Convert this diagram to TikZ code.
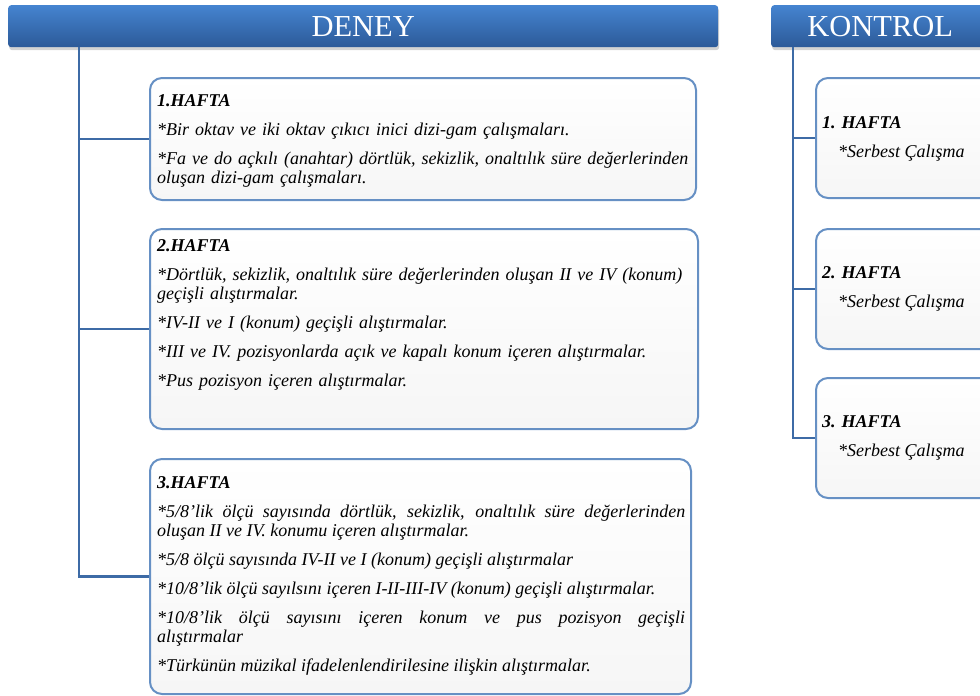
\documentclass[tikz,border=0pt]{standalone}
\usepackage{fontspec}
\setmainfont{Liberation Serif}
\usetikzlibrary{shadows,calc}
\definecolor{hdrtop}{HTML}{4584D0}
\definecolor{hdrbot}{HTML}{2C5A98}
\definecolor{linec}{HTML}{3D6BA6}
\definecolor{boxc}{HTML}{6690C4}
\definecolor{boxfillb}{HTML}{F6F6F6}
\tikzset{
  hdr/.style={anchor=north west, rounded corners=3pt, top color=hdrtop, bottom color=hdrbot,
    draw=none, text=white, font=\fontsize{30.5}{32}\selectfont,
    drop shadow={opacity=0.35, shadow xshift=1pt, shadow yshift=-3pt}},
  wbox/.style={anchor=north west, rounded corners=12pt, draw=boxc, line width=2pt,
    top color=white, bottom color=boxfillb},
  conn/.style={draw=linec, line width=2.5pt},
  btext/.style={anchor=north west, inner sep=0pt, text width=528pt,
    font=\fontsize{18}{19}\selectfont\itshape},
  ktitle/.style={anchor=west, inner sep=0pt, font=\fontsize{18}{20}\selectfont\bfseries\itshape},
  kbody/.style={anchor=west, inner sep=0pt, font=\fontsize{18}{20}\selectfont\itshape},
}
\begin{document}
\begin{tikzpicture}[x=1pt,y=-1pt]
\useasboundingbox (0,0) rectangle (980,696);
% headers
\node[hdr, minimum width=710pt, minimum height=42pt] (deney) at (8,5) {DENEY};
\node[hdr, minimum width=218pt, minimum height=42pt] (kontrol) at (771,5) {KONTROL};
% left boxes
\node[wbox, minimum width=546pt, minimum height=122pt] (b1) at (149,77) {};
\node[wbox, minimum width=548pt, minimum height=200pt] (b2) at (149,228) {};
\node[wbox, minimum width=541pt, minimum height=235pt] (b3) at (149,458) {};
% right boxes
\node[wbox, minimum width=200pt, minimum height=120pt] (k1) at (815,77) {};
\node[wbox, minimum width=200pt, minimum height=120pt] (k2) at (815,228) {};
\node[wbox, minimum width=200pt, minimum height=120pt] (k3) at (815,377) {};
% connectors
\coordinate (dtop) at (79,47);
\coordinate (ktop) at (793,47);
\draw[conn] (dtop) |- (b1.west);
\draw[conn] (dtop) |- (b2.west);
\draw[conn] (dtop) |- (b3.west);
\draw[conn] (ktop) |- (k1.west);
\draw[conn] (ktop) |- (k2.west);
\draw[conn] (ktop) |- (k3.west);
% texts left
\node[btext, align=left, text width=545pt] (t1) at (157,94) {\setlength{\parskip}{10pt}%
\textbf{1.HAFTA}\par
*Bir oktav ve iki oktav çıkıcı inici dizi-gam çalışmaları.\par
\mbox{*Fa ve do açkılı (anahtar) dörtlük, sekizlik, onaltılık süre değerlerinden}\\
oluşan dizi-gam çalışmaları.\par};
\node[btext, align=left, text width=545pt] (t2) at (157,239) {\setlength{\parskip}{10pt}%
\textbf{2.HAFTA}\par
\mbox{*Dörtlük, sekizlik, onaltılık süre değerlerinden oluşan II ve IV (konum)}\\
geçişli alıştırmalar.\par
*IV-II ve I (konum) geçişli alıştırmalar.\par
*III ve IV. pozisyonlarda açık ve kapalı konum içeren alıştırmalar.\par
*Pus pozisyon içeren alıştırmalar.\par};
\node[btext, align=justify] (t3) at (157,476) {\setlength{\parskip}{10pt}%
\textbf{3.HAFTA}\par
*5/8'lik ölçü sayısında dörtlük, sekizlik, onaltılık süre değerlerinden\linebreak
oluşan II ve IV. konumu içeren alıştırmalar.\par
*5/8 ölçü sayısında IV-II ve I (konum) geçişli alıştırmalar\par
*10/8'lik ölçü sayılsını içeren I-II-III-IV (konum) geçişli alıştırmalar.\par
*10/8'lik ölçü sayısını içeren konum ve pus pozisyon geçişli\linebreak
alıştırmalar\par
*Türkünün müzikal ifadelenlendirilesine ilişkin alıştırmalar.\par};
% texts right
\node[ktitle] (k1a) at (822,123) {1. HAFTA};
\node[kbody] (k1b) at (838,153) {*Serbest Çalışma};
\node[ktitle] (k2a) at (822,273) {2. HAFTA};
\node[kbody] (k2b) at (838,303) {*Serbest Çalışma};
\node[ktitle] (k3a) at (822,422) {3. HAFTA};
\node[kbody] (k3b) at (838,452) {*Serbest Çalışma};
\end{tikzpicture}
\end{document}
